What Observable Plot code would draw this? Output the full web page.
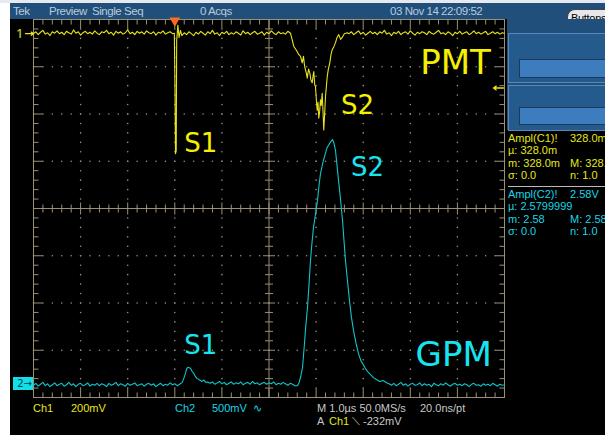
<!DOCTYPE html>
<html><head><meta charset="utf-8">
<script src="https://cdn.jsdelivr.net/npm/d3@7"></script>
<script src="https://cdn.jsdelivr.net/npm/@observablehq/plot@0.6"></script>
<style>
html,body{margin:0;padding:0;background:#000;}
#scope{position:relative;width:605px;height:435px;background:#000;overflow:hidden;font-family:"Liberation Sans",Arial,sans-serif;}
#strip{position:absolute;left:0;top:0;width:10px;height:435px;background:#fff;}
#topline{position:absolute;left:0;top:0;width:605px;height:3px;background:#e6eaee;}
#header{position:absolute;left:10px;top:3px;width:595px;height:16px;background:#1f4f7a;}
.h{position:absolute;top:1px;font-size:11.5px;color:#bccbda;line-height:14px;white-space:nowrap;letter-spacing:-0.45px;}
#btn{position:absolute;left:567px;top:9px;width:48px;height:19px;border-radius:8px;background:#e8e8e8;border:1px solid #444;font-size:11px;line-height:17px;color:#000;padding-left:3px;box-sizing:border-box;letter-spacing:-0.3px;}
#panel{position:absolute;left:507px;top:19px;width:98px;height:111px;background:#1f4f7a;}
.box{position:absolute;left:1px;width:100px;border:1px solid #5a88b8;background:#245a8c;}
.bar{position:absolute;left:10px;width:100px;background:#3d7cbd;border:1px solid #1a3a5a;}
.m{position:absolute;font-size:11px;line-height:12px;white-space:nowrap;}
.y{color:#e6e61e;} .c{color:#19d6e6;} .w{color:#c8c8c8;}
#sep{position:absolute;left:508px;top:186px;width:97px;height:1px;background:#bbb;}
#m2{position:absolute;left:13px;top:377px;width:20px;height:13px;background:#10e0e8;color:#003848;font-size:10px;line-height:13px;text-align:right;padding-right:1px;box-sizing:border-box;font-family:"DejaVu Sans",sans-serif;}
svg{position:absolute;left:0;top:0;}
</style></head>
<body>
<div id="scope">
  <div id="strip"></div>
  <div id="topline"></div>
  <div id="header">
    <div class="h" style="left:3px">Tek</div>
    <div class="h" style="left:39px">Preview</div>
    <div class="h" style="left:82px">Single Seq</div>
    <div class="h" style="left:190px">0 Acqs</div>
    <div class="h" style="left:380px">03 Nov 14 22:09:52</div>
  </div>
  <div id="btn">Buttons</div>
  <div id="panel">
    <div class="box" style="top:14px;height:48px"><div class="bar" style="top:25px;height:17px"></div></div>
    <div class="box" style="top:66px;height:44px"><div class="bar" style="top:21px;height:16px"></div></div>
  </div>
  <div class="m y" style="left:508px;top:132px">Ampl(C1)!</div>
  <div class="m y" style="left:570px;top:132px">328.0m</div>
  <div class="m y" style="left:508px;top:144px">µ: 328.0m</div>
  <div class="m y" style="left:508px;top:157px">m: 328.0m</div>
  <div class="m y" style="left:570px;top:157px">M: 328.0</div>
  <div class="m y" style="left:508px;top:169px">σ: 0.0</div>
  <div class="m y" style="left:570px;top:169px">n: 1.0</div>
  <div id="sep"></div>
  <div class="m c" style="left:508px;top:188px">Ampl(C2)!</div>
  <div class="m c" style="left:570px;top:188px">2.58V</div>
  <div class="m c" style="left:508px;top:200px">µ: 2.5799999</div>
  <div class="m c" style="left:508px;top:213px">m: 2.58</div>
  <div class="m c" style="left:570px;top:213px">M: 2.58</div>
  <div class="m c" style="left:508px;top:225px">σ: 0.0</div>
  <div class="m c" style="left:570px;top:225px">n: 1.0</div>
  <div class="m y" style="left:33px;top:402px">Ch1</div>
  <div class="m y" style="left:71px;top:402px">200mV</div>
  <div class="m c" style="left:175px;top:402px">Ch2</div>
  <div class="m c" style="left:212px;top:402px">500mV</div>
  <div class="m c" style="left:253px;top:402px">∿</div>
  <div class="m w" style="left:317px;top:402px">M 1.0µs 50.0MS/s</div>
  <div class="m w" style="left:420px;top:402px">20.0ns/pt</div>
  <div class="m w" style="left:317px;top:415px">A</div>
  <div class="m y" style="left:329px;top:415px">Ch1</div>
  <div class="m w" style="left:352px;top:415px">⟍ -232mV</div>
  <div id="m2">2→</div>
</div>
<script>
// ---- data (time in µs, value in screen divisions) ----
const sampleStep = 0.05;
const ch1PreStart = 0, ch1Pre = [3.70,3.74,3.68,3.73,3.77,3.69,3.72,3.66,3.74,3.71,3.76,3.70,3.73,3.68,3.75,3.72,3.69,3.78,3.71,3.74,3.67,3.72,3.75,3.70,3.73,3.69,3.76,3.71,3.68,3.74,3.72,3.77,3.70,3.73,3.67,3.75,3.71,3.74,3.69,3.72,3.78,3.70,3.73,3.68,3.75,3.71,3.74,3.69,3.76,3.72,3.70,3.74,3.67,3.73,3.71,3.76,3.69,3.72,3.74,3.70];
const ch1Spike = [[2.99,3.71],[3.005,2.45],[3.015,1.16],[3.03,1.22],[3.04,3.55],[3.065,3.88],[3.09,3.62],[3.12,3.77],[3.15,3.66]];
const ch1MidStart = 3.2, ch1Mid = [3.72,3.68,3.74,3.70,3.66,3.73,3.69,3.75,3.71,3.67,3.74,3.70,3.77,3.69,3.72,3.66,3.73,3.70,3.75,3.68,3.72,3.69,3.74,3.71,3.67,3.76,3.70,3.73,3.68,3.72,3.75,3.69,3.71,3.74,3.67,3.73,3.70,3.76,3.71,3.68,3.74,3.70,3.72,3.69,3.75];
const ch1Dip = [[5.456,3.71],[5.49,3.58],[5.527,3.43],[5.56,3.38],[5.599,3.32],[5.63,3.26],[5.669,3.22],[5.705,3.08],[5.732,3.22],[5.755,3.02],[5.775,2.93],[5.795,2.86],[5.811,2.76],[5.84,2.95],[5.866,2.87],[5.89,2.72],[5.917,2.66],[5.935,2.80],[5.951,2.90],[5.97,2.62],[5.987,2.58],[6.005,2.30],[6.023,2.08],[6.04,2.25],[6.057,1.91],[6.075,2.05],[6.093,2.30],[6.11,2.18],[6.129,2.44],[6.145,2.10],[6.163,1.66],[6.18,1.98],[6.200,2.37],[6.218,2.58],[6.236,2.79],[6.26,2.95],[6.291,3.08],[6.315,3.25],[6.342,3.36],[6.375,3.42],[6.412,3.51],[6.445,3.62],[6.482,3.68],[6.52,3.58],[6.554,3.62],[6.60,3.70],[6.66,3.72]];
const ch1PostStart = 6.7, ch1Post = [3.70,3.74,3.68,3.72,3.76,3.69,3.73,3.67,3.71,3.75,3.70,3.73,3.68,3.74,3.71,3.77,3.69,3.72,3.66,3.73,3.70,3.75,3.68,3.72,3.74,3.69,3.76,3.71,3.67,3.73,3.70,3.74,3.72,3.68,3.75,3.71,3.69,3.73,3.77,3.70,3.72,3.68,3.74,3.71,3.66,3.73,3.70,3.75,3.69,3.72,3.74,3.68,3.71,3.76,3.70,3.73,3.69,3.72,3.75,3.68,3.71,3.74,3.70,3.73,3.69,3.72,3.71];

const ch2PreStart = 0, ch2Pre = [-3.74,-3.70,-3.76,-3.72,-3.68,-3.75,-3.71,-3.77,-3.73,-3.69,-3.75,-3.72,-3.70,-3.76,-3.73,-3.68,-3.74,-3.71,-3.77,-3.72,-3.70,-3.75,-3.73,-3.69,-3.76,-3.72,-3.74,-3.70,-3.75,-3.71,-3.73,-3.77,-3.70,-3.74,-3.72,-3.68,-3.75,-3.71,-3.73,-3.76,-3.70,-3.74,-3.72,-3.69,-3.75,-3.73,-3.71,-3.76,-3.72,-3.70,-3.74,-3.71,-3.77,-3.73,-3.70,-3.75,-3.72,-3.74,-3.69,-3.73,-3.71,-3.75,-3.72];
const ch2Bump = [[3.157,-3.68],[3.19,-3.60],[3.227,-3.49],[3.25,-3.40],[3.276,-3.36],[3.305,-3.37],[3.333,-3.38],[3.37,-3.45],[3.403,-3.49],[3.44,-3.56],[3.476,-3.60],[3.51,-3.62],[3.546,-3.64],[3.58,-3.66],[3.62,-3.63],[3.655,-3.68],[3.688,-3.67]];
const ch2MidStart = 3.75, ch2Mid = [-3.70,-3.67,-3.72,-3.69,-3.66,-3.71,-3.68,-3.73,-3.70,-3.67,-3.72,-3.69,-3.71,-3.67,-3.73,-3.70,-3.68,-3.72,-3.66,-3.71,-3.69,-3.73,-3.70,-3.68,-3.72,-3.69,-3.71,-3.67,-3.73,-3.70,-3.72,-3.68,-3.71,-3.74,-3.70,-3.72,-3.75];
const ch2Peak = [[5.605,-3.75],[5.64,-3.68],[5.675,-3.55],[5.711,-3.37],[5.75,-2.90],[5.78,-2.50],[5.817,-2.10],[5.85,-1.60],[5.881,-1.10],[5.91,-0.75],[5.945,-0.40],[5.99,-0.10],[6.030,0.17],[6.06,0.47],[6.093,0.74],[6.15,1.00],[6.200,1.17],[6.23,1.28],[6.263,1.34],[6.30,1.40],[6.348,1.46],[6.38,1.38],[6.412,1.23],[6.44,0.95],[6.476,0.60],[6.52,0.18],[6.561,-0.25],[6.59,-0.65],[6.624,-1.10],[6.665,-1.52],[6.709,-1.95],[6.75,-2.30],[6.794,-2.58],[6.85,-2.86],[6.900,-3.07],[6.95,-3.22],[7.00,-3.30],[7.049,-3.39],[7.10,-3.46],[7.16,-3.52],[7.219,-3.58],[7.28,-3.62],[7.35,-3.66],[7.42,-3.64],[7.516,-3.70]];
const ch2PostStart = 7.55, ch2Post = [-3.71,-3.74,-3.70,-3.75,-3.72,-3.68,-3.74,-3.71,-3.76,-3.72,-3.70,-3.74,-3.73,-3.69,-3.75,-3.71,-3.74,-3.72,-3.77,-3.70,-3.73,-3.75,-3.71,-3.74,-3.69,-3.73,-3.76,-3.72,-3.70,-3.74,-3.72,-3.75,-3.71,-3.73,-3.77,-3.72,-3.70,-3.74,-3.73,-3.76,-3.71,-3.74,-3.72,-3.75,-3.70,-3.73,-3.76,-3.72,-3.74,-3.73];

const labelText  = ["PMT", "S1", "S2", "S1", "S2", "GPM"];
const labelT     = [8.96, 3.55, 6.88, 3.55, 7.09, 8.92];
const labelV     = [3.07, 1.38, 2.18, -2.90, 0.87, -3.11];
const labelCh    = [1, 1, 1, 2, 2, 2];
const labelSize  = [34, 26, 26, 26, 26, 34];

const triggerT = 3.0;     // trigger position (µs)
const ch1Ground = 3.70;   // channel 1 marker level (div)
const trigLevel = 2.55;   // trigger level arrow (div)

// ---- build tables ----
const sampled = (start, vals) => vals.map((v, i) => ({t: start + i * sampleStep, v}));
const pairs = arr => arr.map(([t, v]) => ({t, v}));
const ch1 = [...sampled(ch1PreStart, ch1Pre), ...pairs(ch1Spike), ...sampled(ch1MidStart, ch1Mid), ...pairs(ch1Dip), ...sampled(ch1PostStart, ch1Post)];
const ch2 = [...sampled(ch2PreStart, ch2Pre), ...pairs(ch2Bump), ...sampled(ch2MidStart, ch2Mid), ...pairs(ch2Peak), ...sampled(ch2PostStart, ch2Post)];
const labels = labelText.map((text, i) => ({text, t: labelT[i], v: labelV[i], ch: labelCh[i], size: labelSize[i]}));

const Y = "#e8e41c", C = "#10c4c8", YL = "#f4f000", CL = "#18e4f0", G = "#9a9074";
const minor = d3.range(0, 50.5, 1).map(d => d / 5);
const minorY = d3.range(-20, 20.5, 1).map(d => d / 5);
const isMajor = d => Math.abs(d - Math.round(d)) < 1e-6;
const dx = 10 / 471, dy = 8 / 378; // one pixel in data units

const gridDots = [];
for (const gx of d3.range(1, 10)) if (gx !== 5) for (const gy of minorY) gridDots.push({t: gx, v: gy});
for (const gy of d3.range(-3, 4)) if (gy !== 0) for (const gx of minor) gridDots.push({t: gx, v: gy});

const tickLinks = [];
for (const x of minor) {
  const L = isMajor(x) ? 9 : 5, c = isMajor(x) ? 6 : 4;
  tickLinks.push({x1: x, x2: x, y1: 4, y2: 4 - L * dy});
  tickLinks.push({x1: x, x2: x, y1: -4, y2: -4 + L * dy});
  tickLinks.push({x1: x, x2: x, y1: -c * dy, y2: c * dy});
}
for (const y of minorY) {
  const L = isMajor(y) ? 9 : 5, c = isMajor(y) ? 6 : 4;
  tickLinks.push({x1: 0, x2: L * dx, y1: y, y2: y});
  tickLinks.push({x1: 10, x2: 10 - L * dx, y1: y, y2: y});
  tickLinks.push({x1: 5 - c * dx, x2: 5 + c * dx, y1: y, y2: y});
}
// level arrows: ch1 ground marker (left edge) and trigger level (right edge)
const levelArrows = [
  {x1: -8 * dx, x2: 0, y: ch1Ground},
  {x1: 10 - 1 * dx, x2: 10 - 11 * dx, y: trigLevel}
];

const plot = Plot.plot({
  width: 605, height: 435,
  marginLeft: 33, marginRight: 101, marginTop: 19, marginBottom: 38,
  x: {type: "linear", domain: [0, 10], axis: null},
  y: {type: "linear", domain: [-4, 4], axis: null},
  style: {background: "transparent", overflow: "visible"},
  marks: [
    Plot.dot(gridDots, {x: "t", y: "v", r: 0.8, fill: G, stroke: null}),
    Plot.ruleX([5], {stroke: G, strokeWidth: 1}),
    Plot.ruleY([0], {stroke: G, strokeWidth: 1}),
    Plot.link(tickLinks, {x1: "x1", x2: "x2", y1: "y1", y2: "y2", stroke: G, strokeWidth: 1}),
    Plot.frame({stroke: G, strokeWidth: 1}),
    Plot.line(ch1, {x: "t", y: "v", stroke: Y, strokeWidth: 1.1}),
    Plot.line(ch2, {x: "t", y: "v", stroke: C, strokeWidth: 1.1}),
    Plot.text(labels, {x: "t", y: "v", text: "text", fill: d => d.ch === 1 ? YL : CL, fontSize: d => d.size,
      fontFamily: "DejaVu Sans", textAnchor: "middle", lineAnchor: "middle"}),
    Plot.text([{t: 0, v: ch1Ground}], {x: "t", y: "v", text: ["1"], fill: Y, fontSize: 13, textAnchor: "end", dx: -10}),
    Plot.arrow(levelArrows, {x1: "x1", x2: "x2", y1: "y", y2: "y", stroke: Y, strokeWidth: 1.3, headLength: 5, headAngle: 70}),
    Plot.dot([{t: triggerT, v: 4}], {x: "t", y: "v", symbol: "triangle", rotate: 180, r: 4, fill: "#ff6a20", stroke: null, dy: 1})
  ]
});
document.getElementById("scope").appendChild(plot);
</script>
</body></html>
